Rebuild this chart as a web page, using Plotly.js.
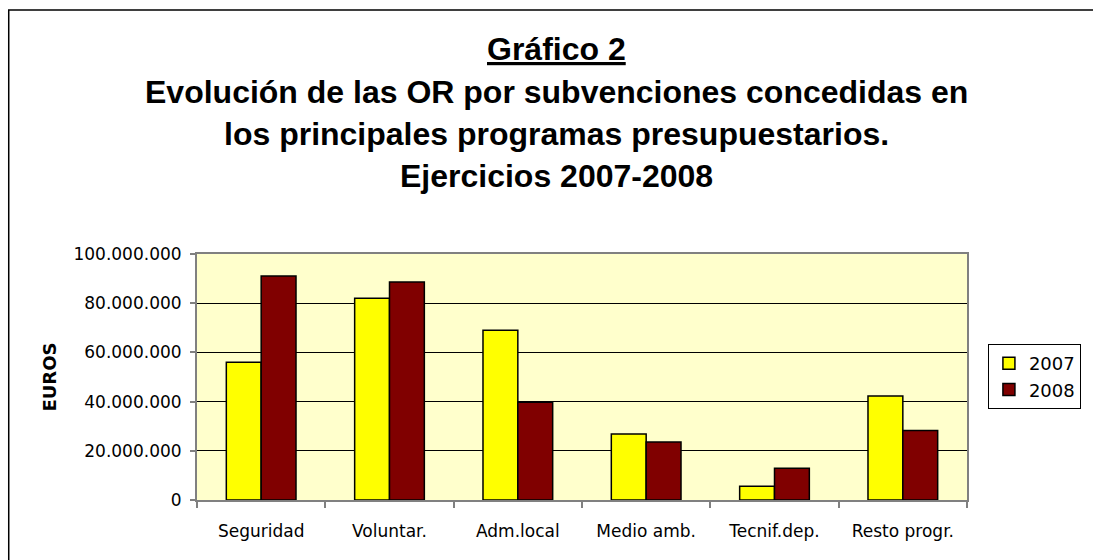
<!DOCTYPE html>
<html>
<head>
<meta charset="utf-8">
<script src="https://cdn.plot.ly/plotly-3.0.1.min.js"></script>
<style>html,body{margin:0;padding:0;background:#fff;}#chart{width:1093px;height:560px;}</style>
</head>
<body>
<div id="chart"></div>
<script>
const categories = ["Seguridad", "Voluntar.", "Adm.local", "Medio amb.", "Tecnif.dep.", "Resto progr."];
const values2007 = [56000000, 82000000, 69000000, 26800000, 5600000, 42300000];
const values2008 = [91100000, 88600000, 39700000, 23600000, 12900000, 28300000];
const seriesNames = ["2007", "2008"];
const yTickVals = [0, 20000000, 40000000, 60000000, 80000000, 100000000];
const yTickText = ["0", "20.000.000", "40.000.000", "60.000.000", "80.000.000", "100.000.000"];
const titleLines = ["<u>Gráfico 2</u>", "Evolución de las OR por subvenciones concedidas en", "los principales programas presupuestarios.", "Ejercicios 2007-2008"];

// pixel geometry helpers (plot area: x 197-970, y 254-500)
const L = 197, R = 970, T = 254, B = 500;
const px = x => (x - L) / (R - L);
const py = y => (B - y) / (B - T);

const tickFont = {family: "DejaVu Sans, Verdana, sans-serif", size: 17, color: "#000"};

const traces = [
  {type: "bar", name: seriesNames[0], x: categories, y: values2007,
   marker: {color: "#FFFF00", line: {color: "#000", width: 1.5}}},
  {type: "bar", name: seriesNames[1], x: categories, y: values2008,
   marker: {color: "#800000", line: {color: "#000", width: 1.5}}}
];

const titleY = [49, 92, 134, 176];
const annotations = titleLines.map((t, i) => ({
  text: t, xref: "paper", yref: "paper", x: px(558), y: py(titleY[i]),
  xanchor: "center", yanchor: "middle", showarrow: false,
  font: {family: "Liberation Sans, Arial, sans-serif", size: 32, color: "#000", weight: "bold"}
}));
annotations.push({
  text: "<b>EUROS</b>", xref: "paper", yref: "paper", x: px(48), y: py(377),
  xanchor: "center", yanchor: "middle", showarrow: false, textangle: -90,
  font: {family: "DejaVu Sans, Verdana, sans-serif", size: 18, color: "#000"}
});

const layout = {
  width: 1093, height: 560,
  margin: {l: L, r: 1093 - R, t: T, b: 560 - B, pad: 0},
  paper_bgcolor: "#ffffff",
  plot_bgcolor: "#FFFFCC",
  barmode: "group",
  bargap: 0.457,
  bargroupgap: 0,
  showlegend: true,
  legend: {
    x: px(991), y: py(344), xanchor: "left", yanchor: "top",
    bgcolor: "#fff", bordercolor: "#000", borderwidth: 1,
    font: {family: "DejaVu Sans, Verdana, sans-serif", size: 18, color: "#000"},
    itemwidth: 30, tracegroupgap: 0
  },
  xaxis: {
    type: "category", tickson: "boundaries", ticks: "outside", ticklen: 6,
    tickcolor: "#808080", tickwidth: 2,
    showline: true, linecolor: "#808080", linewidth: 2, mirror: true,
    showgrid: false, tickfont: tickFont, ticklabelstandoff: 15,
    fixedrange: true
  },
  yaxis: {
    range: [0, 100000000], tickvals: yTickVals, ticktext: yTickText,
    ticks: "outside", ticklen: 5, tickcolor: "#808080", tickwidth: 2,
    showline: true, linecolor: "#808080", linewidth: 2, mirror: true,
    showgrid: true, gridcolor: "#000", gridwidth: 1, zeroline: false,
    tickfont: tickFont, ticklabelstandoff: 5, fixedrange: true
  },
  annotations: annotations,
  shapes: [{
    type: "rect", xref: "paper", yref: "paper",
    x0: px(8), x1: px(1110), y0: py(580), y1: py(10),
    line: {color: "#000", width: 1.5}, fillcolor: "rgba(0,0,0,0)", layer: "below"
  }]
};

Plotly.newPlot("chart", traces, layout, {displayModeBar: false, staticPlot: true});
</script>
</body>
</html>
